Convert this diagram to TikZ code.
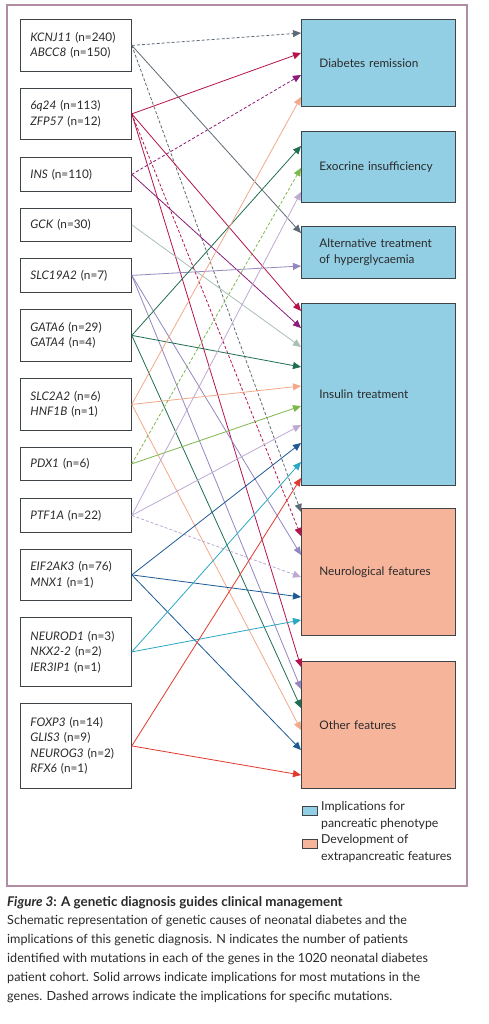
\documentclass[tikz,border=0pt]{standalone}
\usepackage{fontspec}
\setmainfont{Lato}
\usetikzlibrary{arrows.meta}
\definecolor{cKC}{HTML}{5E6B75}
\definecolor{cSix}{HTML}{B5134B}
\definecolor{cINS}{HTML}{8A1C7C}
\definecolor{cGCK}{HTML}{A8BFB6}
\definecolor{cSLCa}{HTML}{9486BF}
\definecolor{cGATA}{HTML}{1F6E50}
\definecolor{cSLCb}{HTML}{F2A98A}
\definecolor{cPDX}{HTML}{7DB84B}
\definecolor{cPTF}{HTML}{BFA9D3}
\definecolor{cEIF}{HTML}{1D5A95}
\definecolor{cNEU}{HTML}{2AA7C2}
\definecolor{cFOX}{HTML}{E2392E}
\definecolor{pancblue}{HTML}{92CFE4}
\definecolor{extrasal}{HTML}{F6B59B}
\definecolor{framec}{HTML}{B18DA3}
\definecolor{boxline}{HTML}{3E4448}
\definecolor{txt}{HTML}{2A2A2A}
\tikzset{
  genebox/.style={draw=boxline, line width=0.8pt, fill=white, anchor=north west,
    minimum width=111pt, inner xsep=10pt, inner ysep=0pt, text width=91pt, align=left,
    font=\fontsize{11.8}{15.5}\selectfont, text=txt},
  outbox/.style={draw=boxline, line width=0.8pt, anchor=north west,
    minimum width=154pt, inner xsep=18pt, inner ysep=0pt, text width=118pt, align=left,
    font=\fontsize{11.8}{16.5}\selectfont, text=txt},
  pancbox/.style={outbox, fill=pancblue},
  extrabox/.style={outbox, fill=extrasal},
  link/.style={line width=0.8pt, -{Triangle[length=8pt,width=7pt]}},
  dlink/.style={link, dash pattern=on 3pt off 2pt},
  legsq/.style={draw=boxline, line width=0.5pt, anchor=north west, minimum width=15pt, minimum height=9pt, inner sep=0pt},
  legtext/.style={anchor=north west, align=left, inner sep=0pt, font=\fontsize{12.3}{16.8}\selectfont, text=txt}
}
\begin{document}
\begin{tikzpicture}[x=1pt, y=-1pt]
\useasboundingbox (0,0) rectangle (488,1024);
\fill[white] (0,0) rectangle (488,1024);
\draw[framec, line width=1.4pt] (7,5) rectangle (467,886);

% gene boxes
\node[genebox, minimum height=52pt] (g1) at (20,19) {\textit{KCNJ11} (n=240)\\\textit{ABCC8} (n=150)};
\node[genebox, minimum height=51pt] (g2) at (20,88) {\textit{6q24} (n=113)\\\textit{ZFP57} (n=12)};
\node[genebox, minimum height=34pt] (g3) at (20,157) {\textit{INS} (n=110)};
\node[genebox, minimum height=33pt] (g4) at (20,208) {\textit{GCK} (n=30)};
\node[genebox, minimum height=34pt] (g5) at (20,258) {\textit{SLC19A2} (n=7)};
\node[genebox, minimum height=52pt] (g6) at (20,309) {\textit{GATA6} (n=29)\\\textit{GATA4} (n=4)};
\node[genebox, minimum height=52pt] (g7) at (20,378) {\textit{SLC2A2} (n=6)\\\textit{HNF1B} (n=1)};
\node[genebox, minimum height=33pt] (g8) at (20,447) {\textit{PDX1} (n=6)};
\node[genebox, minimum height=34pt] (g9) at (20,498) {\textit{PTF1A} (n=22)};
\node[genebox, minimum height=51pt] (g10) at (20,549) {\textit{EIF2AK3} (n=76)\\\textit{MNX1} (n=1)};
\node[genebox, minimum height=69pt] (g11) at (20,617) {\textit{NEUROD1} (n=3)\\\textit{NKX2-2} (n=2)\\\textit{IER3IP1} (n=1)};
\node[genebox, minimum height=85pt] (g12) at (20,703) {\textit{FOXP3} (n=14)\\\textit{GLIS3} (n=9)\\\textit{NEUROG3} (n=2)\\\textit{RFX6} (n=1)};

% outcome boxes
\node[pancbox, minimum height=87pt] (oA) at (301,19) {Diabetes remission};
\node[pancbox, minimum height=71pt] (oB) at (301,131) {Exocrine insufficiency};
\node[pancbox, minimum height=52pt] (oC) at (301,226) {Alternative treatment\\of hyperglycaemia};
\node[pancbox, minimum height=182pt] (oD) at (301,303) {Insulin treatment};
\node[extrabox, minimum height=127pt] (oE) at (301,508) {Neurological features};
\node[extrabox, minimum height=127pt] (oF) at (301,661) {Other features};

% connectors
\draw[dlink, cKC] (g1.east) -- ([yshift=-14pt]oA.north west);
\draw[link, cKC] (g1.east) -- ([yshift=-7pt]oC.north west);
\draw[dlink, cKC] (g1.east) -- ([yshift=-4pt]oE.north west);

\draw[link, cSix] (g2.east) -- ([yshift=-34pt]oA.north west);
\draw[link, cSix] (g2.east) -- ([yshift=-8pt]oD.north west);
\draw[dlink, cSix] (g2.east) -- ([yshift=-28pt]oE.north west);
\draw[link, cSix] (g2.east) -- ([yshift=-6pt]oF.north west);

\draw[dlink, cINS] (g3.east) -- ([yshift=-56pt]oA.north west);
\draw[link, cINS] (g3.east) -- ([yshift=-25pt]oD.north west);

\draw[link, cGCK] (g4.east) -- ([yshift=-44pt]oD.north west);

\draw[link, cSLCa] (g5.east) -- ([yshift=-40pt]oC.north west);
\draw[link, cSLCa] (g5.east) -- ([yshift=-47pt]oE.north west);
\draw[link, cSLCa] (g5.east) -- ([yshift=-28pt]oF.north west);

\draw[link, cGATA] (g6.east) -- ([yshift=-15pt]oB.north west);
\draw[link, cGATA] (g6.east) -- ([yshift=-64pt]oD.north west);
\draw[link, cGATA] (g6.east) -- ([yshift=-47pt]oF.north west);

\draw[link, cSLCb] (g7.east) -- ([yshift=-78pt]oA.north west);
\draw[link, cSLCb] (g7.east) -- ([yshift=-83pt]oD.north west);
\draw[link, cSLCb] (g7.east) -- ([yshift=-69pt]oF.north west);

\draw[dlink, cPDX] (g8.east) -- ([yshift=-37pt]oB.north west);
\draw[link, cPDX] (g8.east) -- ([yshift=-103pt]oD.north west);

\draw[link, cPTF] (g9.east) -- ([yshift=-61pt]oB.north west);
\draw[link, cPTF] (g9.east) -- ([yshift=-122pt]oD.north west);
\draw[dlink, cPTF] (g9.east) -- ([yshift=-69pt]oE.north west);

\draw[link, cEIF] (g10.east) -- ([yshift=-140pt]oD.north west);
\draw[link, cEIF] (g10.east) -- ([yshift=-89pt]oE.north west);
\draw[link, cEIF] (g10.east) -- ([yshift=-89pt]oF.north west);

\draw[link, cNEU] (g11.east) -- ([yshift=-159pt]oD.north west);
\draw[link, cNEU] (g11.east) -- ([yshift=-112pt]oE.north west);

\draw[link, cFOX] (g12.east) -- ([yshift=-175pt]oD.north west);
\draw[link, cFOX] (g12.east) -- ([yshift=-114pt]oF.north west);

% legend
\node[legsq, fill=pancblue] (lg1) at (302,806) {};
\node[legtext] (lt1) at (321,801) {Implications for\\pancreatic phenotype};
\node[legsq, fill=extrasal] (lg2) at (302,839) {};
\node[legtext] (lt2) at (321,834) {Development of\\extrapancreatic features};

% caption
\node[anchor=north west, align=left, inner sep=0pt, font=\fontsize{12.6}{18.8}\selectfont, text=txt] (cap) at (7,896)
{{\fontsize{13.4}{18.8}\selectfont\textbf{\textit{Figure 3}: A genetic diagnosis guides clinical management}}\\
Schematic representation of genetic causes of neonatal diabetes and the\\
implications of this genetic diagnosis. N indicates the number of patients\\
identified with mutations in each of the genes in the 1020 neonatal diabetes\\
patient cohort. Solid arrows indicate implications for most mutations in the\\
genes. Dashed arrows indicate the implications for specific mutations.};
\end{tikzpicture}
\end{document}
